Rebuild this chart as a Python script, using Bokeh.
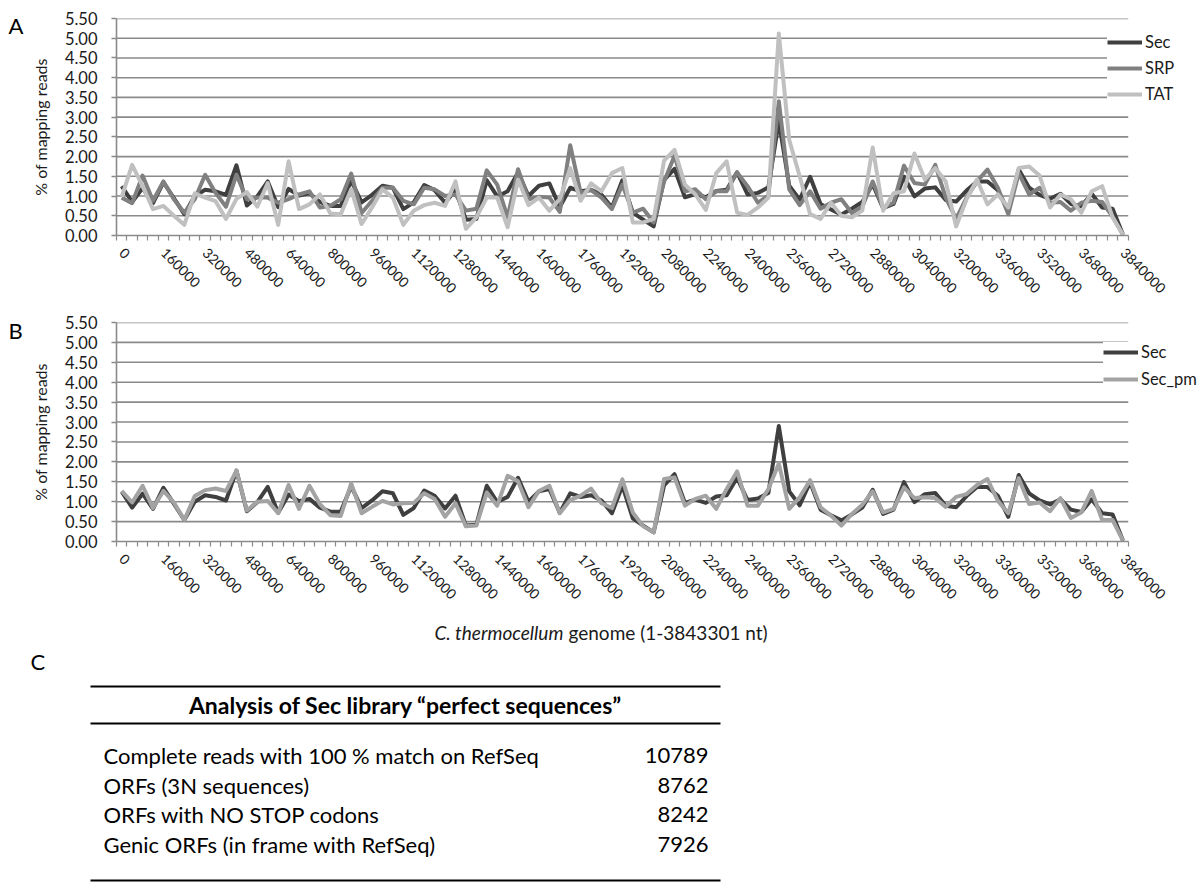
import math
from bokeh.plotting import figure
from bokeh.models import (Range1d, FixedTicker, Legend, LegendItem,
                          NumeralTickFormatter, ColumnDataSource)
from bokeh.layouts import column, row
from bokeh.embed import file_html
from bokeh.resources import INLINE
from bokeh.core.properties import value

# ---------------- data ----------------
positions = list(range(0, 3840001, 40000))   # genome bins (categories)

sec = [1.25, 0.85, 1.2, 0.82, 1.35, 0.95, 0.54, 1.0, 1.16, 1.12,
       1.03, 1.78, 0.76, 0.99, 1.37, 0.72, 1.18, 1.01, 1.07, 0.85,
       0.75, 0.75, 1.39, 0.84, 1.03, 1.26, 1.21, 0.67, 0.84, 1.28,
       1.15, 0.83, 1.15, 0.4, 0.42, 1.4, 0.99, 1.12, 1.6, 1.0,
       1.26, 1.32, 0.72, 1.21, 1.12, 1.16, 1.03, 0.71, 1.4, 0.58,
       0.4, 0.23, 1.41, 1.69, 0.97, 1.05, 0.97, 1.13, 1.16, 1.6,
       1.04, 1.08, 1.22, 2.9, 1.26, 0.91, 1.49, 0.8, 0.66, 0.53,
       0.68, 0.85, 1.3, 0.69, 0.8, 1.49, 0.99, 1.19, 1.22, 0.9,
       0.86, 1.14, 1.37, 1.37, 1.15, 0.62, 1.67, 1.21, 1.03, 0.93,
       1.06, 0.8, 0.74, 1.06, 0.71, 0.68, 0.02]

srp = [0.96, 0.82, 1.52, 0.88, 1.37, 0.92, 0.58, 0.92, 1.54, 1.08,
       0.73, 1.54, 0.92, 0.96, 0.96, 0.83, 0.92, 1.04, 1.12, 0.71,
       0.75, 0.92, 1.57, 0.57, 0.88, 1.21, 1.21, 0.88, 0.79, 1.21,
       1.17, 1.0, 1.04, 0.63, 0.68, 1.65, 1.29, 0.46, 1.68, 0.92,
       0.98, 0.96, 0.6, 2.29, 1.08, 1.15, 0.96, 0.67, 1.29, 0.58,
       0.68, 0.33, 1.37, 2.02, 1.12, 1.17, 0.92, 1.12, 1.12, 1.6,
       1.25, 0.83, 1.02, 3.4, 1.17, 0.77, 1.12, 0.68, 0.83, 0.92,
       0.57, 0.73, 1.37, 0.71, 0.83, 1.77, 1.33, 1.29, 1.79, 0.96,
       0.42, 0.96, 1.37, 1.67, 1.21, 0.54, 1.58, 1.04, 1.21, 0.83,
       0.85, 0.63, 0.83, 0.88, 0.85, 0.48, 0.02]

tat = [0.98, 1.79, 1.25, 0.67, 0.75, 0.5, 0.27, 1.07, 0.96, 0.87,
       0.42, 0.93, 1.1, 0.73, 1.33, 0.27, 1.88, 0.67, 0.79, 1.04,
       0.56, 0.54, 1.17, 0.29, 0.71, 1.17, 0.96, 0.27, 0.63, 0.77,
       0.83, 0.75, 1.37, 0.17, 0.46, 0.96, 0.96, 0.21, 1.42, 0.77,
       0.96, 0.63, 0.92, 1.71, 0.88, 1.32, 1.12, 1.58, 1.71, 0.33,
       0.33, 0.42, 1.9, 2.17, 1.29, 1.04, 0.65, 1.58, 1.88, 0.58,
       0.52, 0.71, 0.96, 5.12, 2.42, 1.5, 0.54, 0.42, 0.83, 0.5,
       0.46, 0.63, 2.23, 0.63, 1.07, 1.12, 2.08, 1.42, 1.71, 1.37,
       0.23, 0.92, 1.42, 0.79, 1.04, 0.71, 1.71, 1.75, 1.52, 0.71,
       1.04, 0.92, 0.58, 1.12, 1.25, 0.46, 0.02]

sec_pm = [1.27, 0.98, 1.40, 0.84, 1.27, 0.98, 0.54, 1.14, 1.29, 1.33,
          1.27, 1.78, 0.78, 1.0, 1.02, 0.71, 1.42, 0.82, 1.40, 0.94,
          0.66, 0.64, 1.46, 0.71, 0.87, 1.02, 0.93, 0.96, 0.97, 1.21,
          1.07, 0.62, 0.96, 0.38, 0.4, 1.23, 0.9, 1.65, 1.51, 0.86,
          1.27, 1.40, 0.71, 1.04, 1.15, 1.33, 0.96, 0.84, 1.56, 0.73,
          0.38, 0.23, 1.57, 1.61, 0.9, 1.07, 1.15, 0.82, 1.32, 1.76,
          0.9, 0.9, 1.32, 1.96, 0.82, 1.11, 1.54, 0.86, 0.65, 0.40,
          0.69, 0.92, 1.26, 0.73, 0.82, 1.36, 1.09, 1.11, 1.09, 0.87,
          1.12, 1.19, 1.42, 1.57, 1.02, 0.71, 1.59, 0.94, 0.98, 0.76,
          1.09, 0.59, 0.73, 1.27, 0.54, 0.54, 0.02]

x_label_ticks = list(range(0, 3840001, 160000))
y_ticks = [0.0, 0.5, 1.0, 1.5, 2.0, 2.5, 3.0, 3.5, 4.0, 4.5, 5.0, 5.5]

series_a = ["Sec", "SRP", "TAT"]
series_b = ["Sec", "Sec_pm"]
panel_letters = ["A", "B", "C"]
y_title = "% of mapping reads"
x_title_italic = "C. thermocellum"
x_title_rest = "genome (1-3843301 nt)"

table_header = "Analysis of Sec library \u201cperfect sequences\u201d"
table_rows = ["Complete reads with 100 % match on RefSeq",
              "ORFs (3N sequences)",
              "ORFs with NO STOP codons",
              "Genic ORFs (in frame with RefSeq)"]
table_values = [10789, 8762, 8242, 7926]

# ---------------- style / layout ----------------
FONT = "Lato"
GRID = "#8a8a8a"
TXT = "#1a1a1a"
PAGE_W = 1200
LET_W = 27            # width of the strip holding the panel letters
AX_LEFT = 105         # page x of the y axis
AX_RIGHT = 1127       # page x where the category axis ends
FRAME_H = 219

half = (positions[1] - positions[0]) / 2
x_start = positions[0] - half
x_axis_end = positions[-1] + half
x_frame_end = x_start + (x_axis_end - x_start) * (PAGE_W - AX_LEFT) / (AX_RIGHT - AX_LEFT)
minor = [c - half for c in positions] + [x_axis_end]


def make_panel(height, top):
    bottom = height - top - FRAME_H
    p = figure(width=PAGE_W - LET_W, height=height, output_backend="svg",
               toolbar_location=None,
               x_range=Range1d(x_start, x_frame_end),
               y_range=Range1d(y_ticks[0], y_ticks[-1]),
               min_border_left=AX_LEFT - LET_W, min_border_right=0,
               min_border_top=top, min_border_bottom=bottom)
    p.outline_line_color = None
    p.grid.visible = False
    # horizontal gridlines, stopping where the category axis stops
    p.segment(x0=[x_start] * (len(y_ticks) - 1), x1=[x_axis_end] * (len(y_ticks) - 1),
              y0=y_ticks[1:], y1=y_ticks[1:], line_color=GRID, line_width=1.6)

    ya = p.yaxis[0]
    ya.ticker = FixedTicker(ticks=y_ticks)
    ya.formatter = NumeralTickFormatter(format="0.00")
    ya.axis_line_color = GRID
    ya.axis_line_width = 1.6
    ya.major_tick_line_color = GRID
    ya.major_tick_line_width = 1.6
    ya.major_tick_out = 5
    ya.major_tick_in = 0
    ya.minor_tick_line_color = None
    ya.major_label_text_font = FONT
    ya.major_label_text_font_size = "16.5px"
    ya.major_label_text_color = TXT
    ya.major_label_standoff = 14
    ya.axis_label = y_title
    ya.axis_label_text_font = FONT
    ya.axis_label_text_font_size = "16px"
    ya.axis_label_text_font_style = "normal"
    ya.axis_label_text_color = TXT
    ya.axis_label_standoff = 12

    xa = p.xaxis[0]
    xa.bounds = (x_start, x_axis_end)
    xa.ticker = FixedTicker(ticks=x_label_ticks, minor_ticks=minor)
    xa.formatter = NumeralTickFormatter(format="0")
    xa.axis_line_color = GRID
    xa.axis_line_width = 1.6
    xa.major_tick_out = 0
    xa.major_tick_in = 0
    xa.major_tick_line_color = None
    xa.minor_tick_out = 5
    xa.minor_tick_in = 0
    xa.minor_tick_line_color = GRID
    xa.minor_tick_line_width = 1.2
    xa.major_label_orientation = -math.pi / 4
    xa.major_label_text_font = FONT
    xa.major_label_text_font_size = "14px"
    xa.major_label_text_color = TXT
    xa.major_label_standoff = 10
    return p


def add_legend(p, renderers, labels, x, y, spacing):
    items = [LegendItem(label=l, renderers=[r]) for l, r in zip(labels, renderers)]
    lg = Legend(items=items, location=(x, y))
    lg.background_fill_color = "white"
    lg.background_fill_alpha = 1.0
    lg.border_line_color = None
    lg.label_text_font = FONT
    lg.label_text_font_size = "16.5px"
    lg.label_text_color = TXT
    lg.glyph_width = 35
    lg.glyph_height = 20
    lg.spacing = spacing
    lg.padding = 9
    lg.margin = 0
    lg.label_standoff = 3
    p.add_layout(lg)


def letter_strip(height, top, letter, y_center):
    # strip whose frame matches the panel frame (plots in a row share frame edges);
    # y data = local pixels from the strip top
    bottom = height - top - FRAME_H
    f = figure(width=LET_W, height=height, output_backend="svg", toolbar_location=None,
               x_range=Range1d(0, LET_W), y_range=Range1d(top + FRAME_H, top),
               min_border_left=0, min_border_right=0,
               min_border_top=top, min_border_bottom=bottom)
    f.axis.visible = False
    f.grid.visible = False
    f.outline_line_color = None
    f.text(x=[8], y=[y_center], text=[letter], text_font=value(FONT),
           text_font_size="22px", text_align="left", text_baseline="middle",
           text_color="black")
    return f


# ---------------- panel A ----------------
A_H, A_TOP = 300, 18
pa = make_panel(A_H, A_TOP)
src_a = ColumnDataSource(dict(x=positions, sec=sec, srp=srp, tat=tat))
colors_a = ["#3f3f3f", "#808080", "#c0c0c0"]
rends_a = [pa.line("x", k, source=src_a, line_color=c, line_width=4, line_join="round")
           for k, c in zip(["sec", "srp", "tat"], colors_a)]
add_legend(pa, rends_a, series_a, 991, 131, 6)
la = letter_strip(A_H, A_TOP, panel_letters[0], 25.5)

# ---------------- panel B ----------------
B_H, B_TOP = 315, 22
pb = make_panel(B_H, B_TOP)
src_b = ColumnDataSource(dict(x=positions, sec=sec, sec_pm=sec_pm))
colors_b = ["#3f3f3f", "#a3a3a3"]
rends_b = [pb.line("x", k, source=src_b, line_color=c, line_width=4, line_join="round")
           for k, c in zip(["sec", "sec_pm"], colors_b)]
add_legend(pb, rends_b, series_b, 987, 152, 7)
lb = letter_strip(B_H, B_TOP, panel_letters[1], 29.5)

# ---------------- bottom: axis title + table C ----------------
C_TOP = A_H + B_H
C_H = 883 - C_TOP
pc = figure(width=PAGE_W, height=C_H, output_backend="svg", toolbar_location=None,
            x_range=Range1d(0, PAGE_W), y_range=Range1d(C_TOP + C_H, C_TOP),
            min_border=0)
pc.axis.visible = False
pc.grid.visible = False
pc.outline_line_color = None

# axis title of panel B (italic species name + plain rest)
pc.text(x=[563], y=[632], text=[x_title_italic], text_font=value(FONT),
        text_font_size="19px", text_font_style="italic", text_align="right",
        text_baseline="middle", text_color=TXT)
pc.text(x=[568], y=[632], text=[x_title_rest], text_font=value(FONT),
        text_font_size="19px", text_align="left", text_baseline="middle",
        text_color=TXT)

pc.text(x=[30], y=[661], text=[panel_letters[2]], text_font=value(FONT),
        text_font_size="22px", text_align="left", text_baseline="middle",
        text_color="black")

t_left, t_right = 90, 720
y_top, y_hdr_line, y_bottom = 686, 723, 880
row_y0, row_step = 755, 29.5
n = len(table_rows)
rows_y = [row_y0 + i * row_step for i in range(n)]

pc.segment(x0=[t_left] * 3, x1=[t_right] * 3, y0=[y_top, y_hdr_line, y_bottom],
           y1=[y_top, y_hdr_line, y_bottom], line_color="black", line_width=2)
pc.text(x=[(t_left + t_right) / 2], y=[(y_top + y_hdr_line) / 2], text=[table_header],
        text_font=value(FONT), text_font_size="23px", text_font_style="bold",
        text_align="center", text_baseline="middle", text_color="black")
pc.text(x=[103] * n, y=rows_y, text=table_rows, text_font=value(FONT),
        text_font_size="22px", text_align="left", text_baseline="middle",
        text_color="black")
pc.text(x=[708] * n, y=rows_y, text=[str(v) for v in table_values],
        text_font=value(FONT), text_font_size="22px", text_align="right",
        text_baseline="middle", text_color="black")

layout = column(row(la, pa, spacing=0), row(lb, pb, spacing=0), pc, spacing=0)
open("out.html", "w").write(file_html(layout, INLINE))
